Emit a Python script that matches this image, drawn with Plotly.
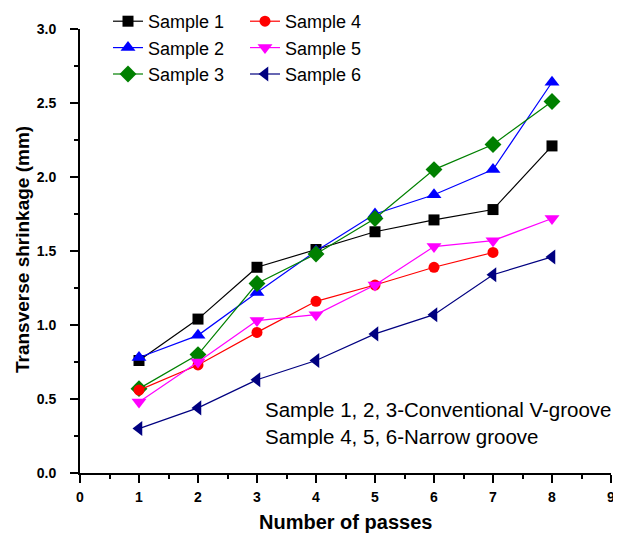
import plotly.graph_objects as go

passes = [1, 2, 3, 4, 5, 6, 7, 8]
sample1 = [0.76, 1.04, 1.39, 1.51, 1.63, 1.71, 1.78, 2.21]
sample2 = [0.78, 0.93, 1.22, 1.50, 1.75, 1.88, 2.05, 2.64]
sample3 = [0.57, 0.80, 1.28, 1.48, 1.72, 2.05, 2.22, 2.51]
sample4 = [0.56, 0.73, 0.95, 1.16, 1.27, 1.39, 1.49]
sample5 = [0.48, 0.75, 1.03, 1.07, 1.27, 1.53, 1.57, 1.72]
sample6 = [0.30, 0.44, 0.63, 0.76, 0.94, 1.07, 1.34, 1.46]

FONT = "Liberation Sans, Arial, sans-serif"

series = [
    ("Sample 1", sample1, "black", "square", 11, "legend"),
    ("Sample 2", sample2, "blue", "triangle-up", 13, "legend"),
    ("Sample 3", sample3, "green", "diamond", 13, "legend"),
    ("Sample 4", sample4, "red", "circle", 11, "legend2"),
    ("Sample 5", sample5, "magenta", "triangle-down", 13, "legend2"),
    ("Sample 6", sample6, "navy", "triangle-left", 13, "legend2"),
]

fig = go.Figure()
for name, vals, color, sym, sz, lg in series:
    fig.add_trace(go.Scatter(
        x=passes[:len(vals)], y=vals, name=name, mode="lines+markers",
        line=dict(color=color, width=1.2),
        marker=dict(symbol=sym, color=color, size=sz),
        legend=lg, legendgroup=name,
    ))

W, H = 621, 541
L, T, PW, PH = 72, 21, 531, 444

legend_style = dict(
    bgcolor="rgba(0,0,0,0)", borderwidth=0,
    font=dict(family=FONT, size=18, color="black"),
    tracegroupgap=0,
    xref="container", yref="paper",
    xanchor="left", yanchor="top",
)

fig.update_layout(
    width=W, height=H,
    paper_bgcolor="white", plot_bgcolor="white",
    margin=dict(l=L, r=W - L - PW, t=T, b=H - T - PH, autoexpand=False),
    font=dict(family=FONT, color="black"),
    legend=dict(x=100 / W, y=1 + 26 / PH, **legend_style),
    legend2=dict(x=237 / W, y=1 + 26 / PH, **legend_style),
    xaxis=dict(
        range=[0, 9], dtick=1, showgrid=False, zeroline=False,
        showline=True, linecolor="black", linewidth=2,
        ticks="outside", ticklen=8, tickwidth=2, tickcolor="black",
        ticklabelstandoff=2,
        tickfont=dict(family=FONT, size=14, color="black", weight="bold"),
        minor=dict(dtick=0.5, ticks="outside", ticklen=4, tickwidth=1.5, tickcolor="black"),
    ),
    yaxis=dict(
        range=[0, 3], dtick=0.5, tickformat=".1f", showgrid=False, zeroline=False,
        showline=True, linecolor="black", linewidth=2,
        ticks="outside", ticklen=8, tickwidth=2, tickcolor="black",
        ticklabelstandoff=11,
        tickfont=dict(family=FONT, size=14, color="black", weight="bold"),
        minor=dict(dtick=0.25, ticks="outside", ticklen=4, tickwidth=1.5, tickcolor="black"),
    ),
)

# axis titles
fig.add_annotation(
    x=(345 - 8 - L) / PW, y=(T + PH - (522 - 8)) / PH, xref="paper", yref="paper",
    xanchor="center", yanchor="middle", showarrow=False,
    text="<b>Number of passes</b>", font=dict(family=FONT, size=20, color="black"),
)
fig.add_annotation(
    x=(22 - 8 - L) / PW, y=(T + PH - (250 - 8)) / PH, xref="paper", yref="paper",
    xanchor="center", yanchor="middle", showarrow=False, textangle=-90,
    text="<b>Transverse shrinkage (mm)</b>", font=dict(family=FONT, size=19, color="black"),
)

fig.add_annotation(
    x=(255 - L) / PW, y=(T + PH - 415) / PH, xref="paper", yref="paper",
    xanchor="left", yanchor="middle",
    text="Sample 1, 2, 3-Conventional V-groove<br>Sample 4, 5, 6-Narrow groove",
    showarrow=False, align="left",
    font=dict(family=FONT, size=20.5, color="black"),
)

fig.write_html("out.html")
